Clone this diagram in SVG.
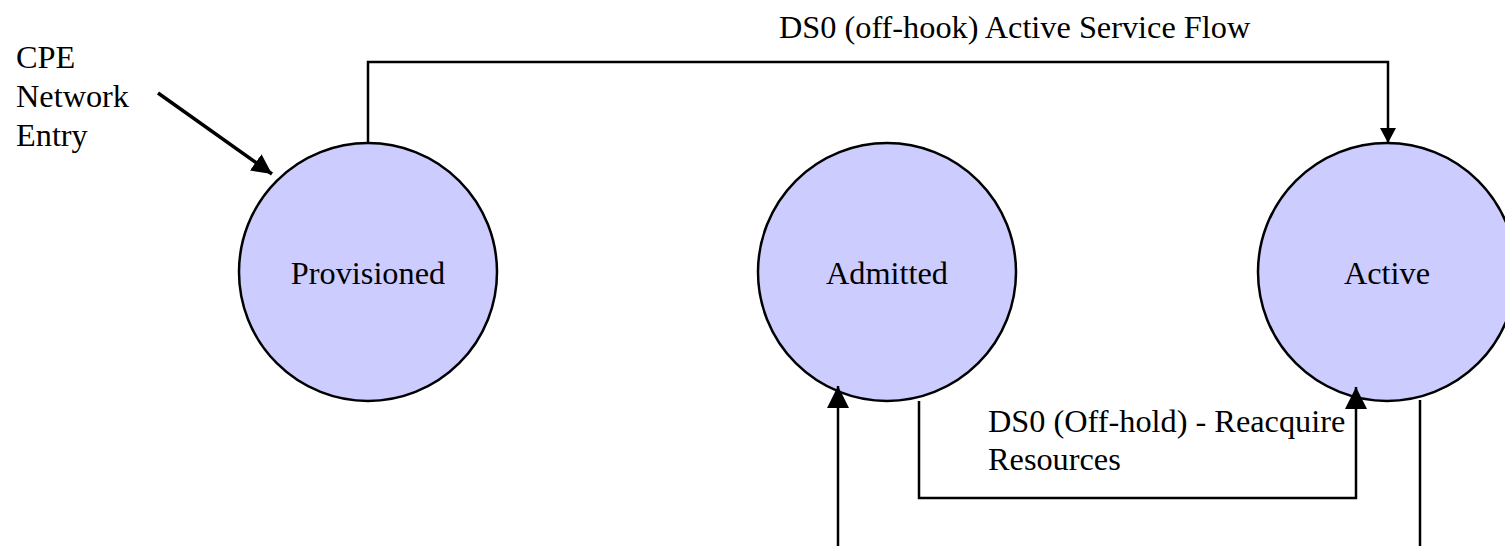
<svg xmlns="http://www.w3.org/2000/svg" width="1505" height="546" viewBox="0 0 1505 546">
<style>
.node{fill:#ccccff;stroke:#000;stroke-width:2.5}
.lbl{font-family:"Liberation Serif","Times New Roman",serif;font-size:32.3px;fill:#000}
.c{text-anchor:middle}
.ln{fill:none;stroke:#000;stroke-width:2.5}
.thick{stroke-width:3.5}
</style>
<defs>
<marker id="ahS" markerUnits="userSpaceOnUse" markerWidth="16" markerHeight="16" refX="15" refY="8" orient="auto"><path d="M0,0 L15,8 L0,16 Z" fill="#000"/></marker>
<marker id="ahL" markerUnits="userSpaceOnUse" markerWidth="22" markerHeight="22" refX="22" refY="11" orient="auto"><path d="M0,0 L22,11 L0,22 Z" fill="#000"/></marker>
<marker id="ahE" markerUnits="userSpaceOnUse" markerWidth="22" markerHeight="20" refX="20" refY="10" orient="auto"><path d="M0,0 L20,10 L0,20 Z" fill="#000"/></marker>
</defs>
<rect width="1505" height="546" fill="#fff"/>
<g id="provisioned"><circle class="node" cx="368" cy="272" r="129"/><text class="lbl c" x="368" y="284">Provisioned</text></g>
<g id="admitted"><circle class="node" cx="887" cy="272" r="129"/><text class="lbl c" x="887" y="284">Admitted</text></g>
<g id="active"><circle class="node" cx="1387" cy="272" r="129"/><text class="lbl c" x="1387" y="284">Active</text></g>
<g id="connectors">
<path class="ln" d="M368,143 V62 H1388 V143" marker-end="url(#ahS)"/>
<path class="ln thick" d="M158,93 L272,174" marker-end="url(#ahE)"/>
<path class="ln" d="M838,546 V386" marker-end="url(#ahL)"/>
<path class="ln" d="M919,401 V498 H1356 V387" marker-end="url(#ahL)"/>
<path class="ln" d="M1420,400 V546"/>
</g>
<g id="labels">
<text class="lbl" x="779" y="38">DS0 (off-hook) Active Service Flow</text>
<text class="lbl" x="16" y="68">CPE</text>
<text class="lbl" x="16" y="107">Network</text>
<text class="lbl" x="16" y="146">Entry</text>
<text class="lbl" x="988" y="432">DS0 (Off-hold) - Reacquire</text>
<text class="lbl" x="988" y="470">Resources</text>
</g>
</svg>
